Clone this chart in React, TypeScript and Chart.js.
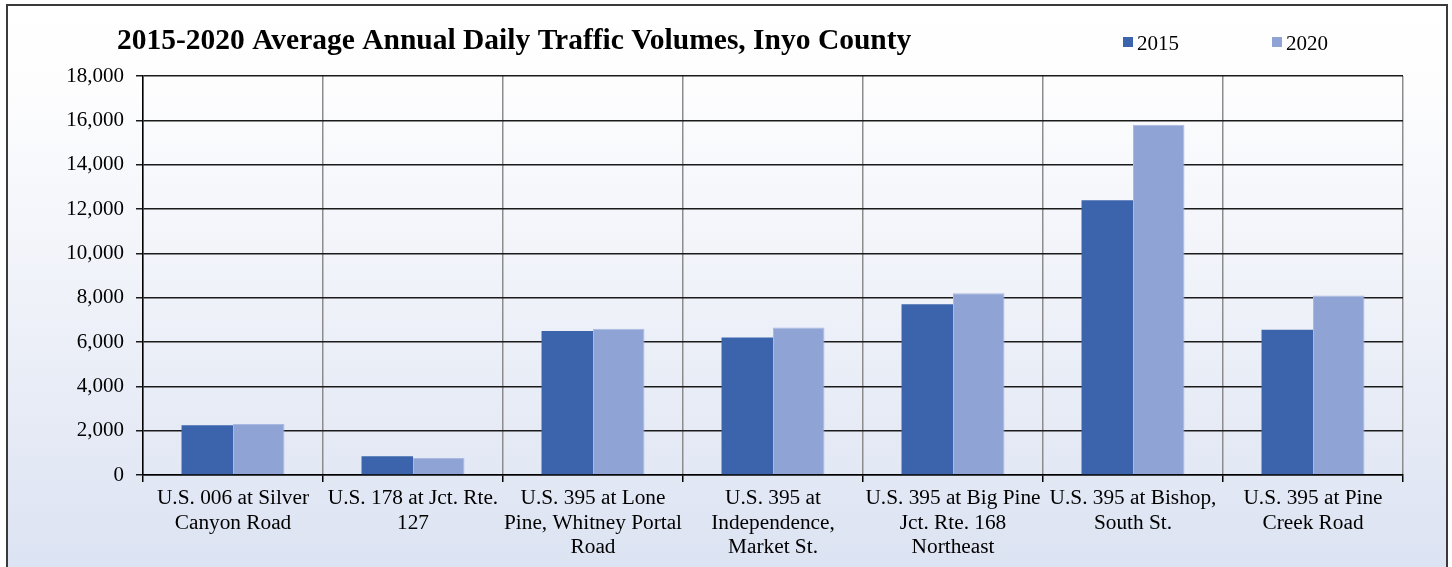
import React, { useEffect, useRef } from "react";
import { Chart, registerables } from "chart.js";

Chart.register(...registerables);

const TITLE = "2015-2020 Average Annual Daily Traffic Volumes, Inyo County";

const categories: string[][] = [
  ["U.S. 006 at Silver", "Canyon Road"],
  ["U.S. 178 at Jct. Rte.", "127"],
  ["U.S. 395 at Lone", "Pine, Whitney Portal", "Road"],
  ["U.S. 395 at", "Independence,", "Market St."],
  ["U.S. 395 at Big Pine", "Jct. Rte. 168", "Northeast"],
  ["U.S. 395 at Bishop,", "South St."],
  ["U.S. 395 at Pine", "Creek Road"],
];

const seriesLabels = ["2015", "2020"];
const values2015 = [2250, 850, 6500, 6200, 7700, 12400, 6550];
const values2020 = [2300, 770, 6600, 6650, 8200, 15800, 8100];

const yTicks = { min: 0, max: 18000, step: 2000 };

const FONT = "'Liberation Serif', 'Times New Roman', serif";

const framePlugin = {
  id: "frameBg",
  beforeDraw(chart: any) {
    const { ctx, width, height } = chart;
    ctx.save();
    const g = ctx.createLinearGradient(0, 5, 0, height);
    g.addColorStop(0, "#ffffff");
    g.addColorStop(0.15, "#fdfdfe");
    g.addColorStop(1, "#dce3f2");
    ctx.fillStyle = "#ffffff";
    ctx.fillRect(0, 0, width, height);
    ctx.fillStyle = g;
    ctx.fillRect(7, 5, width - 12, height);
    ctx.strokeStyle = "#3a3a3a";
    ctx.lineWidth = 2;
    ctx.beginPath();
    ctx.moveTo(7, height + 5);
    ctx.lineTo(7, 5);
    ctx.lineTo(width - 5, 5);
    ctx.lineTo(width - 5, height + 5);
    ctx.stroke();
    ctx.restore();
  },
};

const titleLegendPlugin = {
  id: "titleLegend",
  afterDraw(chart: any) {
    const { ctx } = chart;
    ctx.save();
    ctx.fillStyle = "#000";
    ctx.textBaseline = "alphabetic";
    ctx.textAlign = "left";
    ctx.font = `bold 29.5px ${FONT}`;
    ctx.fillText(TITLE, 117, 49);
    const xs = [1123, 1272];
    ctx.font = `21px ${FONT}`;
    chart.data.datasets.forEach((ds: any, i: number) => {
      ctx.fillStyle = ds.backgroundColor;
      ctx.fillRect(xs[i], 37, 10, 10);
      ctx.fillStyle = "#000";
      ctx.fillText(ds.label, xs[i] + 14, 50);
    });
    ctx.restore();
  },
};

export default function App() {
  const ref = useRef<HTMLCanvasElement>(null);
  useEffect(() => {
    document.body.style.margin = "0";
    const canvas = ref.current!;
    const chart = new Chart(canvas, {
      type: "bar",
      data: {
        labels: categories,
        datasets: [
          {
            label: seriesLabels[0],
            data: values2015,
            backgroundColor: "#3c64ac",
            borderColor: "#3c64ac",
            borderWidth: 0,
            categoryPercentage: 0.572,
            barPercentage: 1.0,
          },
          {
            label: seriesLabels[1],
            data: values2020,
            backgroundColor: "#8fa3d4",
            borderColor: "#a9b9e2",
            borderWidth: 1,
            categoryPercentage: 0.572,
            barPercentage: 1.0,
          },
        ],
      },
      options: {
        responsive: false,
        animation: false,
        layout: { padding: { top: 76, right: 49, left: 0, bottom: 0 } },
        plugins: {
          legend: { display: false },
          title: { display: false },
          tooltip: { enabled: false },
        },
        scales: {
          x: {
            grid: {
              color: "#8c8c8c",
              lineWidth: 1.5,
              tickLength: 7,
              tickColor: "#000",
              offset: true,
            },
            border: { color: "#000", width: 1.5 },
            ticks: {
              color: "#000",
              font: { family: FONT, size: 21.3, lineHeight: 1.16 },
              maxRotation: 0,
              minRotation: 0,
              autoSkip: false,
              padding: 4,
            },
            afterFit(scale: any) {
              scale.height = 92;
            },
          },
          y: {
            min: yTicks.min,
            max: yTicks.max,
            grid: {
              color: "#1a1a1a",
              lineWidth: 1.5,
              tickLength: 7,
            },
            border: { color: "#000", width: 1.5 },
            ticks: {
              stepSize: yTicks.step,
              color: "#000",
              font: { family: FONT, size: 21 },
              padding: 12,
              callback: (v: any) => Number(v).toLocaleString("en-US"),
            },
            afterFit(scale: any) {
              scale.width = 143;
            },
          },
        },
      },
      plugins: [framePlugin, titleLegendPlugin],
    });
    return () => chart.destroy();
  }, []);
  return (
    <div style={{ width: 1452, height: 567 }}>
      <canvas ref={ref} width={1452} height={567} style={{ display: "block" }} />
    </div>
  );
}
